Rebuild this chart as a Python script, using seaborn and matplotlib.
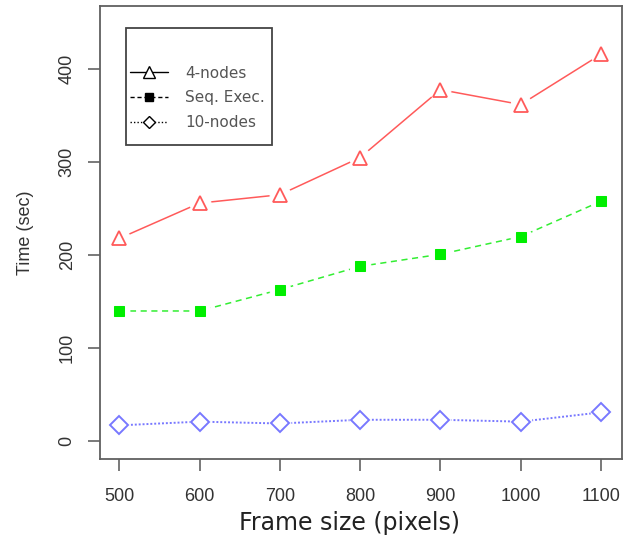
import matplotlib
matplotlib.use("Agg")
import matplotlib.pyplot as plt
from matplotlib.lines import Line2D
from matplotlib.patches import Rectangle
import seaborn as sns
import pandas as pd

frame_size = [500, 600, 700, 800, 900, 1000, 1100]
nodes4 = [218, 256, 265, 305, 378, 362, 416]
seq_exec = [140, 140, 163, 188, 201, 220, 258]
nodes10 = [17, 21, 19, 23, 23, 21, 31]
x_ticks = [500, 600, 700, 800, 900, 1000, 1100]
y_ticks = [0, 100, 200, 300, 400]

sns.set_theme(style="white")
plt.rcParams['font.family'] = ['DejaVu Sans']

W, H = 625, 543
fig = plt.figure(figsize=(W / 100, H / 100), dpi=100)
ax = fig.add_axes([0.16, 0.155, 0.835, 0.834])

df = pd.DataFrame({"x": frame_size, "n4": nodes4, "seq": seq_exec, "n10": nodes10})

RED, GREEN, BLUE = "#ff5a5a", "#00ee00", "#7878ff"

# lines
sns.lineplot(data=df, x="x", y="n4", ax=ax, color=RED, linewidth=1.1)
sns.lineplot(data=df, x="x", y="seq", ax=ax, color="#33ee33", linewidth=1.1,
             linestyle=(0, (4, 3)))
sns.lineplot(data=df, x="x", y="n10", ax=ax, color=BLUE, linewidth=1.4,
             linestyle=(0, (1, 1)))
# white gaps around points (R type="b")
for col in ["n4", "seq", "n10"]:
    sns.lineplot(data=df, x="x", y=col, ax=ax, linestyle="", marker="o",
                 markersize=15, markerfacecolor="white", markeredgecolor="white")
# markers
sns.lineplot(data=df, x="x", y="n4", ax=ax, linestyle="", marker="^", markersize=10,
             markerfacecolor="white", markeredgecolor=RED, markeredgewidth=1.3)
sns.lineplot(data=df, x="x", y="seq", ax=ax, linestyle="", marker="s", markersize=7,
             markerfacecolor=GREEN, markeredgecolor=GREEN)
sns.lineplot(data=df, x="x", y="n10", ax=ax, linestyle="", marker="D", markersize=9,
             markerfacecolor="white", markeredgecolor=BLUE, markeredgewidth=1.4)

ax.set_xlim(476, 1126)
ax.set_ylim(-19, 468)
ax.set_xticks(x_ticks)
ax.set_yticks(y_ticks)
tick_font = dict(family="Liberation Sans", size=13, color="#333333")
ax.set_xticklabels([str(v) for v in x_ticks], **tick_font)
ax.set_yticklabels([str(v) for v in y_ticks], rotation=90, va="center", **tick_font)
ax.tick_params(axis="both", direction="out", length=8.5, width=1.1, color="#555555",
               bottom=True, left=True)
ax.tick_params(axis="x", pad=12.5)
ax.tick_params(axis="y", pad=9)

for s in ax.spines.values():
    s.set_color("#606060")
    s.set_linewidth(1.3)

ax.set_xlabel("Frame size (pixels)", fontsize=17, color="#222222", labelpad=4.5)
ax.xaxis.label.set_x((350 - 100) / 522)
ax.set_ylabel("Time (sec)", family="Liberation Sans", fontsize=13, color="#333333",
              labelpad=18)

handles = [
    Line2D([0], [0], color="black", linewidth=1, marker="^", markersize=8,
           markerfacecolor="white", markeredgecolor="black"),
    Line2D([0], [0], color="black", linewidth=1, linestyle=(0, (3, 2)), marker="s",
           markersize=5.5, markerfacecolor="black"),
    Line2D([0], [0], color="black", linewidth=1, linestyle=(0, (1, 1.5)), marker="D",
           markersize=6.5, markerfacecolor="white", markeredgecolor="black"),
]
leg = fig.legend(handles, ["4-nodes", "Seq. Exec.", "10-nodes"], loc="upper left",
                 bbox_to_anchor=(130 / W, 1 - 65.5 / H), frameon=False,
                 fontsize=11, handlelength=2.5, borderpad=0, labelspacing=0.65,
                 handletextpad=1.1, borderaxespad=0)
for t in leg.get_texts():
    t.set_color("#555555")

# legend box (as in the R figure)
fig.patches.append(Rectangle((126 / W, 1 - 145 / H), 146 / W, 117 / H,
                             transform=fig.transFigure, fill=False,
                             edgecolor="#444444", linewidth=1.3, zorder=5))

fig.savefig("out.png", dpi=100)
